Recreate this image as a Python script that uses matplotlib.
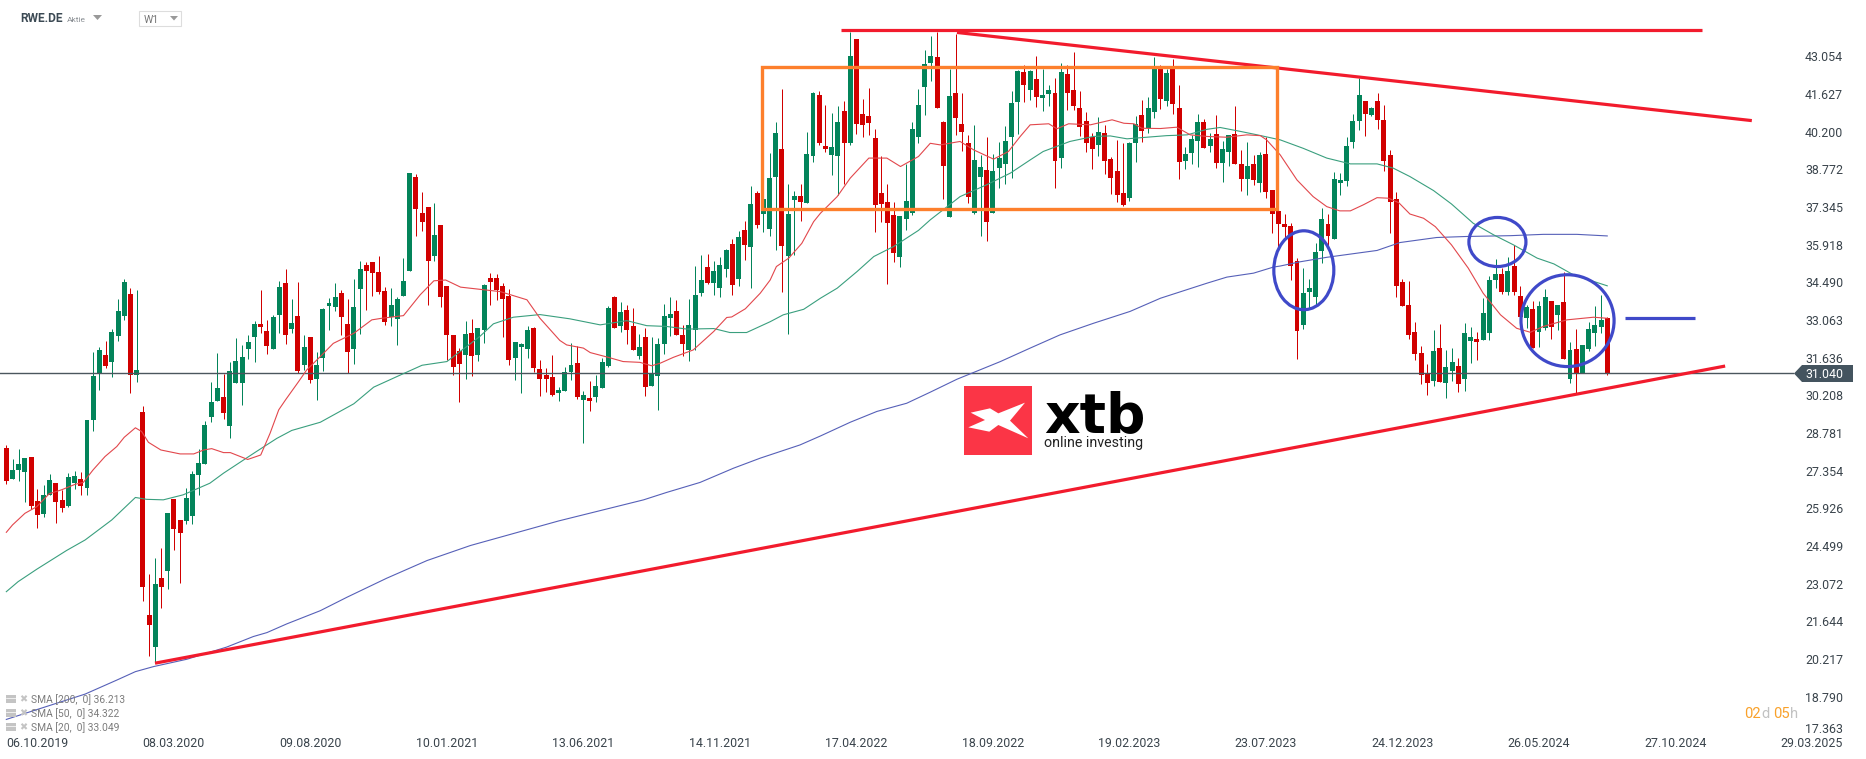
import numpy as np
import matplotlib
matplotlib.use("Agg")
import matplotlib.pyplot as plt
from matplotlib.patches import Ellipse, Polygon, Rectangle

plt.rcParams['font.family'] = ['Roboto', 'DejaVu Sans']

# weekly candles of RWE.DE (G = up, R = down)
directions = ("RGGGRRGGRR" "GGRGGGRGGG" "RGRRGRGRRG" "GGGGGRGGGG" "GRRGGRGRGR" "GGGGRRGGRR"
              "RRGGGGRRRG" "RRRRGRGGRR" "RRGGGRRRRG" "GGRGRGGGRG" "RRGRGGGGRR" "GGGRGGGRGR"
              "GRGGGRGGRG" "GRRGGRGRRR" "RRRRGGGGGG" "RRGRRRGGRG" "GGGGRGRGGR" "GRRRRRGRRR"
              "RGGRGGRGRR" "GGGRGRGGRR" "GRGRRRRRRG" "GGGRGGGGGR" "GRRRRRRRRR" "GRGGRGGRGG"
              "GRGRRGRGGR" "GRGRGGGGR")

highs = [28.33,27.79,28.18,27.84,27.88,26.67,26.82,27.23,26.89,26.63,
         27.27,27.35,27.31,29.28,31.86,32.05,32.27,32.73,33.86,34.62,
         34.28,34.20,29.81,23.45,24.05,24.43,25.75,26.29,25.49,26.70,
         27.35,28.18,29.24,30.72,31.82,31.02,31.48,32.39,32.12,32.50,
         33.03,34.20,33.07,33.26,34.55,35.00,33.86,34.51,32.50,32.42,
         31.86,33.52,33.90,34.47,34.20,33.86,34.62,35.30,35.27,35.27,
         35.49,34.32,34.28,33.94,35.42,38.64,38.60,37.92,37.35,37.50,
         36.67,34.36,32.50,32.00,33.03,33.11,32.77,34.44,34.85,34.81,
         34.47,34.25,32.24,32.20,32.84,32.80,31.55,31.25,31.75,30.53,
         31.29,32.20,32.09,30.38,30.76,30.98,31.63,33.60,33.98,33.75,
         33.64,33.52,32.54,32.77,32.42,32.39,33.68,33.94,33.83,32.88,
         33.87,35.12,35.53,35.57,35.31,35.46,35.76,36.14,36.44,36.82,
         38.15,37.96,37.66,39.40,40.58,41.82,38.23,37.96,38.23,40.19,
         41.71,41.75,41.22,40.91,41.18,41.37,43.98,43.72,41.45,41.86,
         40.31,39.29,38.23,37.54,37.01,38.98,40.58,41.82,43.30,43.83,
         43.98,40.61,42.58,43.91,41.67,40.08,40.46,39.32,40.01,39.36,
         39.82,40.42,41.75,42.54,42.73,42.54,43.07,42.58,41.97,42.24,
         42.81,42.73,43.22,41.75,40.95,40.16,40.76,40.46,39.25,39.89,
         39.78,39.82,40.80,41.41,41.52,43.03,42.73,42.58,42.96,41.97,
         39.63,40.08,40.87,40.69,40.16,40.84,39.85,40.08,41.18,39.51,
         39.82,39.32,39.44,40.01,38.00,37.39,37.09,36.75,35.42,35.04,
         34.62,35.99,37.31,37.08,38.68,38.64,40.00,40.87,42.24,41.37,
         41.14,41.67,41.21,39.51,37.92,34.62,34.55,32.99,32.08,31.40,
         32.69,32.92,31.93,32.01,31.63,32.95,32.80,32.61,33.90,34.74,
         35.37,35.04,35.46,35.91,34.36,33.64,33.79,33.79,34.24,33.79,
         33.64,34.89,32.24,32.73,32.12,32.99,33.60,34.02,33.18]

body_tops = [28.22,27.39,27.61,27.84,27.88,26.21,26.44,27.01,26.89,26.25,
             27.12,27.16,27.04,29.28,30.95,31.93,31.74,32.61,33.41,34.51,
             34.05,31.17,29.58,21.89,23.07,23.29,25.75,26.29,25.49,26.32,
             27.23,27.65,29.09,29.96,30.49,30.15,31.14,31.51,31.67,32.24,
             32.91,32.91,32.65,33.18,34.32,34.47,32.95,33.22,32.05,32.42,
             31.36,33.48,33.71,33.94,34.09,32.91,33.56,35.00,35.15,35.27,
             34.89,34.17,33.64,33.86,34.55,38.64,38.49,37.12,37.35,36.29,
             36.67,34.36,32.50,31.89,32.54,32.58,32.77,34.40,34.66,34.66,
             34.36,33.98,32.24,32.16,32.69,32.77,31.21,30.98,30.91,30.42,
             31.10,31.37,31.44,30.23,30.12,30.57,31.48,33.52,33.94,33.37,
             33.45,32.84,32.05,32.42,31.02,32.16,33.22,33.30,33.41,32.50,
             32.88,34.02,34.59,35.08,34.93,35.15,35.72,35.95,36.21,36.48,
             37.46,37.88,37.66,38.45,40.16,39.55,37.09,37.77,37.77,39.36,
             41.67,41.59,39.66,39.63,40.58,40.99,43.07,43.72,40.87,40.80,
             39.97,37.88,37.54,37.05,37.01,37.58,40.31,41.22,42.77,43.07,
             43.03,40.58,41.56,41.67,40.50,39.78,39.13,38.87,38.75,38.72,
             39.21,39.85,41.29,42.50,42.47,42.50,42.20,41.59,41.78,41.67,
             42.47,42.39,41.78,41.10,40.61,40.01,40.19,40.16,39.17,38.72,
             37.88,39.78,40.50,40.84,41.10,42.58,42.58,42.43,42.58,41.10,
             39.36,39.93,40.58,40.58,39.93,40.12,39.55,40.08,40.12,38.98,
             38.91,38.98,39.32,39.36,38.00,37.20,36.71,36.63,35.31,34.09,
             34.28,35.65,36.90,36.71,38.41,38.37,39.66,40.61,41.59,41.37,
             41.10,41.37,40.65,39.32,37.65,34.51,33.64,32.61,31.82,31.02,
             31.89,32.01,31.29,31.48,31.33,32.58,32.42,32.35,33.33,34.58,
             34.81,34.81,34.93,35.11,33.98,33.56,33.49,33.60,33.94,33.79,
             33.64,33.75,31.93,31.97,32.12,32.73,32.88,33.07,33.14]

body_bottoms = [26.97,27.04,27.39,27.31,26.02,25.68,25.72,26.44,26.17,25.95,
                26.02,26.89,26.78,26.70,29.28,31.05,31.33,31.48,32.46,33.22,
                30.98,30.98,22.95,21.51,20.68,22.95,23.56,25.15,25.00,25.45,
                25.64,27.20,27.61,29.39,30.00,29.55,29.05,30.68,30.68,31.97,
                32.42,32.80,32.08,31.97,33.26,32.50,32.73,31.14,31.36,30.80,
                30.83,31.63,33.60,33.56,33.18,31.86,31.97,34.24,34.92,34.85,
                34.13,32.99,33.18,33.11,33.98,34.92,37.27,36.78,35.30,35.49,
                33.94,32.50,31.29,31.40,31.74,31.71,31.75,32.69,34.51,34.21,
                33.87,31.55,31.63,32.05,31.97,31.25,30.84,30.84,30.23,30.30,
                30.38,31.10,30.15,30.04,30.00,30.15,30.49,31.33,32.77,32.84,
                32.69,31.93,31.71,30.53,30.57,30.95,32.16,33.15,32.50,32.16,
                31.93,32.69,34.09,34.47,34.47,34.28,35.00,34.40,34.62,35.91,
                35.83,36.67,37.09,36.52,38.49,35.88,35.50,37.62,37.54,37.51,
                39.29,39.78,39.55,39.32,39.29,39.78,39.78,40.50,40.46,40.54,
                37.43,37.47,36.75,35.61,35.46,36.90,37.12,40.01,41.90,42.81,
                41.10,38.91,36.97,40.73,40.19,37.73,37.12,38.49,36.78,37.12,
                38.83,38.98,40.01,41.33,41.97,41.78,41.52,41.48,41.63,39.09,
                39.21,41.67,41.18,40.38,39.78,39.55,39.70,39.09,38.45,37.81,
                37.43,37.69,39.78,40.23,40.35,40.95,41.45,41.37,41.26,39.06,
                39.09,39.40,39.85,39.59,39.66,39.02,39.02,39.44,38.98,38.41,
                38.41,38.37,38.26,37.92,37.09,36.71,36.60,35.12,32.66,32.88,
                34.13,33.94,35.68,36.25,36.14,38.26,38.34,39.81,40.61,40.87,
                40.84,40.65,39.09,37.54,34.36,33.60,32.50,31.78,30.98,30.68,
                30.76,30.72,30.68,31.14,30.64,30.83,32.27,32.24,32.31,32.58,
                34.58,34.13,34.13,34.13,33.18,33.14,32.01,32.61,32.77,32.80,
                33.26,31.59,30.83,31.05,31.05,31.97,32.58,32.80,31.04]

lows = [26.85,27.04,26.97,26.17,25.91,25.19,25.60,26.44,25.38,25.80,
        25.98,26.67,26.44,26.44,28.86,30.42,31.25,30.91,32.27,33.07,
        30.30,30.72,22.42,20.34,20.06,22.15,22.88,24.35,23.10,25.34,
        25.34,26.44,27.61,29.20,30.00,29.32,28.60,30.68,29.85,31.59,
        31.48,32.57,31.78,31.97,32.57,32.16,32.57,31.06,31.17,30.68,
        30.04,31.14,32.69,33.41,32.50,31.06,31.40,32.54,33.45,33.98,
        34.05,32.88,32.84,32.12,33.98,34.92,36.25,36.44,33.64,35.30,
        33.56,31.55,30.98,29.96,30.83,30.95,31.52,32.20,33.64,33.83,
        32.42,31.37,30.80,30.30,31.63,31.10,30.19,30.34,30.19,30.00,
        30.38,30.80,30.08,28.41,29.62,29.96,30.49,31.29,32.77,32.62,
        32.16,31.93,31.59,30.19,30.57,29.66,31.78,32.46,32.50,31.71,
        31.52,31.93,33.98,34.44,34.02,33.94,34.70,34.02,34.36,35.34,
        34.28,36.56,36.41,36.26,35.73,34.13,32.54,35.54,36.82,37.51,
        39.06,39.70,39.44,38.57,37.81,38.23,39.70,40.12,40.01,40.08,
        36.41,36.78,34.44,35.27,35.08,36.48,37.05,39.78,40.84,42.13,
        41.10,37.66,36.97,40.08,39.47,37.51,37.09,36.26,36.06,37.12,
        38.07,38.23,38.45,40.12,41.33,41.41,41.14,40.99,41.18,38.07,
        38.83,41.03,41.03,40.04,39.44,38.79,39.29,38.60,37.85,37.54,
        37.39,37.58,39.06,39.82,40.16,40.73,41.07,41.18,40.87,38.41,
        38.79,38.98,38.87,39.59,39.44,38.83,38.30,38.91,38.98,37.96,
        37.81,38.18,37.92,37.69,36.37,35.73,36.10,34.59,31.60,32.73,
        33.52,33.64,35.23,35.83,36.14,37.80,38.15,39.59,40.27,40.04,
        40.80,40.31,38.71,36.37,33.94,33.60,32.35,31.55,30.64,30.23,
        30.57,30.72,30.11,30.76,30.34,30.38,31.44,31.55,32.31,32.31,
        34.28,34.05,34.02,34.02,33.18,32.77,32.01,32.05,32.69,32.35,
        32.69,31.59,30.68,30.29,31.05,31.89,32.08,32.58,30.98]

# moving averages, read at irregular weeks
sma20_weeks = [0,1,3,4.9,6.9,8.9,11.1,12.4,14,15.9,17.8,19,20.8,21.8,22.9,24.9,28,30.2,31.8,33.1,35,36.1,38.9,41,
               42.5,43.9,45,47.1,48.4,50.6,52.7,56,58.9,60.5,64,66.7,68.9,70.8,73.2,79.6,83.9,86,89.2,90.3,93,94.1,
               97,99.4,102.1,104,105.4,107.5,110.7,114,116.1,116.9,119.1,121.5,123.1,124.1,126.1,128.2,130.1,131.2,
               133.9,136,139,141.9,144.1,147,148.9,150.5,153.7,155.9,159.1,161.5,163.4,165,168,169.3,171.2,174.7,
               178.2,180.1,181.7,183,186,188.6,190.8,193.5,196.7,199.9,202.1,203.1,205.3,208,210.6,212.8,214.9,216.6,
               218.7,220.9,222.7,224.4,226.2,228.4,230.3,232.9,235.6,238,240.8,243.4,245.6,247.7,251.5,255.8,258]
sma20 = [25.02,25.30,25.74,25.99,26.48,26.63,26.84,26.91,27.39,27.89,28.27,28.62,28.98,28.84,28.43,28.14,27.99,27.99,
         28.14,28.19,28.04,28.04,27.78,27.95,28.77,29.66,30.04,30.73,31.17,31.68,32.18,32.56,33.07,33.13,33.23,34.02,
         34.55,34.58,34.31,34.14,33.83,33.13,32.29,32.12,32.00,31.83,31.65,31.49,31.46,31.33,31.43,31.65,31.93,32.63,
         33.16,33.18,33.49,34.08,34.58,35.09,35.41,35.97,36.79,37.11,37.74,38.44,39.20,39.20,38.88,39.26,39.76,39.70,
         39.83,39.51,39.16,39.45,40.02,40.46,40.50,40.31,40.50,40.46,40.65,40.52,40.50,40.33,40.32,40.37,40.08,40.02,
         39.99,40.08,40.05,39.89,39.32,38.37,37.74,37.36,37.20,37.20,37.43,37.70,37.68,37.51,37.08,36.92,36.60,35.91,
         35.03,34.08,33.26,32.75,32.60,32.82,33.07,33.17,33.13]

sma50_weeks = [0,1.9,4.9,9.7,12.7,17,20.8,22.6,25.3,28.5,32.8,35,40.1,43.6,46,50.6,56,59.2,63.5,67,71,74.2,76.3,78.5,
               81.7,86,90.8,95.7,100,103.2,106.4,109.7,114,116.6,119.3,123.1,125.2,128.5,131.2,133.9,137.1,139.8,143,
               147,148.9,153.7,158,161.8,165,167.1,171.4,175.2,177.9,180.6,182.7,187,190.3,193.5,195.6,198.9,201.6,
               205.3,209,212.8,216.6,220.9,223.5,226.2,230,232.9,236.4,239.7,242.9,246.7,249.4,252.6,258]
sma50 = [22.77,23.15,23.62,24.33,24.73,25.49,26.34,26.27,26.25,26.44,26.88,27.26,28.05,28.58,28.88,29.19,29.89,30.52,
         30.98,31.35,31.49,32.06,32.44,32.92,33.17,33.27,33.11,32.88,33.04,32.85,32.82,32.72,32.74,32.59,32.59,33.00,
         33.26,33.47,33.89,34.27,34.90,35.47,35.85,36.46,36.86,37.74,38.19,38.63,39.13,39.45,39.83,40.02,40.04,39.93,
         39.97,40.05,40.08,40.29,40.36,40.21,40.08,39.89,39.57,39.20,38.98,38.98,38.82,38.50,37.97,37.46,36.73,36.29,
         35.91,35.41,35.19,34.77,34.36]

sma200_weeks = [0,12.7,17.8,20.8,23.7,29.1,35.5,39.8,42,45.2,50.6,54.9,61.3,67.8,74.8,89,102.7,106.4,111.8,117.2,121.5,
                127.9,131.2,136,140.3,145.1,148.9,153.2,160.2,165,169.8,175.2,181.1,186,193.5,196.7,201,204.2,205.3,
                208.5,212.8,220.9,224.6,230.5,235.4,242.4,247.7,253.1,258]
sma200 = [17.93,18.89,19.42,19.74,19.93,20.21,20.67,21.07,21.22,21.55,22.05,22.56,23.28,23.95,24.52,25.45,26.25,26.53,
          26.91,27.45,27.83,28.33,28.67,29.19,29.60,29.91,30.33,30.82,31.49,32.00,32.50,32.94,33.39,33.89,34.46,34.69,
          34.84,35.07,35.11,35.27,35.44,35.70,36.00,36.19,36.23,36.26,36.31,36.31,36.25]

last_price = 31.04
price_ticks = [43.054,41.627,40.200,38.772,37.345,35.918,34.490,33.063,31.636,30.208,
               28.781,27.354,25.926,24.499,23.072,21.644,20.217,18.790]
date_labels = ["06.10.2019","08.03.2020","09.08.2020","10.01.2021","13.06.2021","14.11.2021","17.04.2022",
               "18.09.2022","19.02.2023","23.07.2023","24.12.2023","26.05.2024","27.10.2024","29.03.2025"]
legend_rows = ["SMA [200,  0] 36.213", "SMA [50,  0] 34.322", "SMA [20,  0] 33.049"]

GREEN = '#03845a'
RED = '#d10000'
TREND = '#f21b2d'
ORANGE = '#fd7f2c'
CIRCLE = '#3f49c9'
TICK = '#3a444c'
W, H = 1866, 759

weeks = np.arange(len(highs))
bar_colors = [GREEN if d == 'G' else RED for d in directions]
body_tops = np.array(body_tops)
body_bottoms = np.array(body_bottoms)

fig = plt.figure(figsize=(W / 100, H / 100), dpi=100)
ax = fig.add_axes([0, 0, 1, 1])
ax.set_xlim(-1.02, 299.7)
ax.set_ylim(16.43, 45.19)
for s in ax.spines.values():
    s.set_visible(False)

# candles
ax.vlines(weeks, lows, highs, colors=bar_colors, linewidth=0.72, zorder=2, snap=True)
ax.bar(weeks, body_tops - body_bottoms, bottom=body_bottoms, width=0.8, color=bar_colors, linewidth=0, zorder=3)

# last price line
ax.plot([-1.02, 288], [last_price, last_price], color='#4b565e', lw=1.0, zorder=4)

# moving averages
ax.plot(sma200_weeks, sma200, color='#5660b8', lw=0.8, zorder=5)
ax.plot(sma50_weeks, sma50, color='#3a9f7e', lw=0.8, zorder=5)
ax.plot(sma20_weeks, sma20, color='#e2474c', lw=0.8, zorder=5)

# hand drawn analysis on top
ax.plot([134.5, 273.3], [44.05, 44.05], color=TREND, lw=2.3, zorder=6, solid_capstyle='butt')
ax.plot([153.2, 281.3], [43.96, 40.62], color=TREND, lw=2.3, zorder=6, solid_capstyle='butt')
ax.plot([23.96, 277], [20.06, 31.32], color=TREND, lw=2.3, zorder=6, solid_capstyle='butt')
ax.add_patch(Rectangle((121.85, 37.26), 82.85, 5.39, fill=False, edgecolor=ORANGE, lw=2.4, zorder=6))
ax.add_patch(Ellipse((209.1, 34.95), 9.67, 2.99, fill=False, edgecolor=CIRCLE, lw=2.3, zorder=7))
ax.add_patch(Ellipse((240.3, 36.02), 9.19, 1.86, fill=False, edgecolor=CIRCLE, lw=2.3, zorder=7))
ax.add_patch(Ellipse((251.6, 33.04), 15.0, 3.48, fill=False, edgecolor=CIRCLE, lw=2.3, zorder=7))
ax.plot([260.9, 272.2], [33.13, 33.13], color=CIRCLE, lw=2.3, zorder=6, solid_capstyle='butt')

# axis labels sit inside the figure
ax.set_xticks([5 + 22 * k for k in range(len(date_labels))], date_labels)
ax.yaxis.tick_right()
ax.set_yticks(price_ticks, [f"{v:.3f}" for v in price_ticks])
ax.tick_params(axis='x', length=0, pad=-15.8, labelsize=8.9, labelcolor=TICK)
ax.tick_params(axis='y', length=0, pad=-43.9, labelsize=8.9, labelcolor=TICK)
ax.set_zorder(1)

# overlay in pixel coordinates for the platform furniture
ui = fig.add_axes([0, 0, 1, 1], zorder=2)
ui.set_xlim(0, W)
ui.set_ylim(H, 0)
ui.axis('off')
ui.patch.set_alpha(0)

ui.text(1824, 729.5, "17.363", ha='center', va='center', fontsize=8.9, color=TICK)

# price tag
ui.add_patch(Polygon([(1794, 373.5), (1802, 365), (1853, 365), (1853, 382), (1802, 382)], color='#44545f', lw=0))
ui.text(1824, 374, "31.040", ha='center', va='center', fontsize=8.9, color='white')

# header
ui.text(20, 19, "RWE.DE", ha='left', va='center', fontsize=8.6, fontweight='bold', color='#3c4a54')
ui.text(67, 19.5, "Aktie", ha='left', va='center', fontsize=6, color='#8a8f94')
ui.add_patch(Polygon([(93, 15), (102, 15), (97.5, 20)], color='#999999', lw=0))
ui.add_patch(Rectangle((139, 11), 42, 14.5, fill=False, edgecolor='#dddddd', lw=0.8))
ui.text(144, 20, "W1", ha='left', va='center', fontsize=7.6, color='#777777')
ui.add_patch(Polygon([(170, 16), (178, 16), (174, 20.5)], color='#999999', lw=0))

# indicator legend
for row, text in enumerate(legend_rows):
    y = 700 + row * 14
    ui.add_patch(Rectangle((6, y - 5), 10, 8, color='#c4c4c4', lw=0))
    ui.plot([6, 16], [y - 2, y - 2], color='white', lw=0.5)
    ui.text(23, y - 0.5, "\u2716", ha='center', va='center', fontsize=7, color='#c4c4c4', family='DejaVu Sans')
    ui.text(31, y, text, ha='left', va='center', fontsize=7.4, color='#7c7c7c')

# countdown
for x, s, c in [(1744, "02", '#f9a12a'), (1761, "d", '#c2c2c2'), (1773, "05", '#f9a12a'), (1790, "h", '#c2c2c2')]:
    ui.text(x, 714, s, ha='left', va='center', fontsize=10.6, color=c)

# xtb logo
ui.add_patch(Rectangle((964, 386), 68, 69, color='#fb3546', lw=0))
logo_x = [255, 175, 150, 92, 135, 85, 148, 175, 265, 210]
logo_y = [98, 130, 115, 128, 150, 172, 185, 165, 205, 152]
ui.add_patch(Polygon([(940 + a / 3, 370 + b / 3) for a, b in zip(logo_x, logo_y)], color='white', lw=0))
ui.text(1044, 432, "xtb", ha='left', va='baseline', fontsize=39.8, fontweight='bold', color='black', family='DejaVu Sans')
ui.text(1044, 447, "online investing", ha='left', va='baseline', fontsize=10.3, color='#222222')

fig.savefig("out.png", dpi=100)
